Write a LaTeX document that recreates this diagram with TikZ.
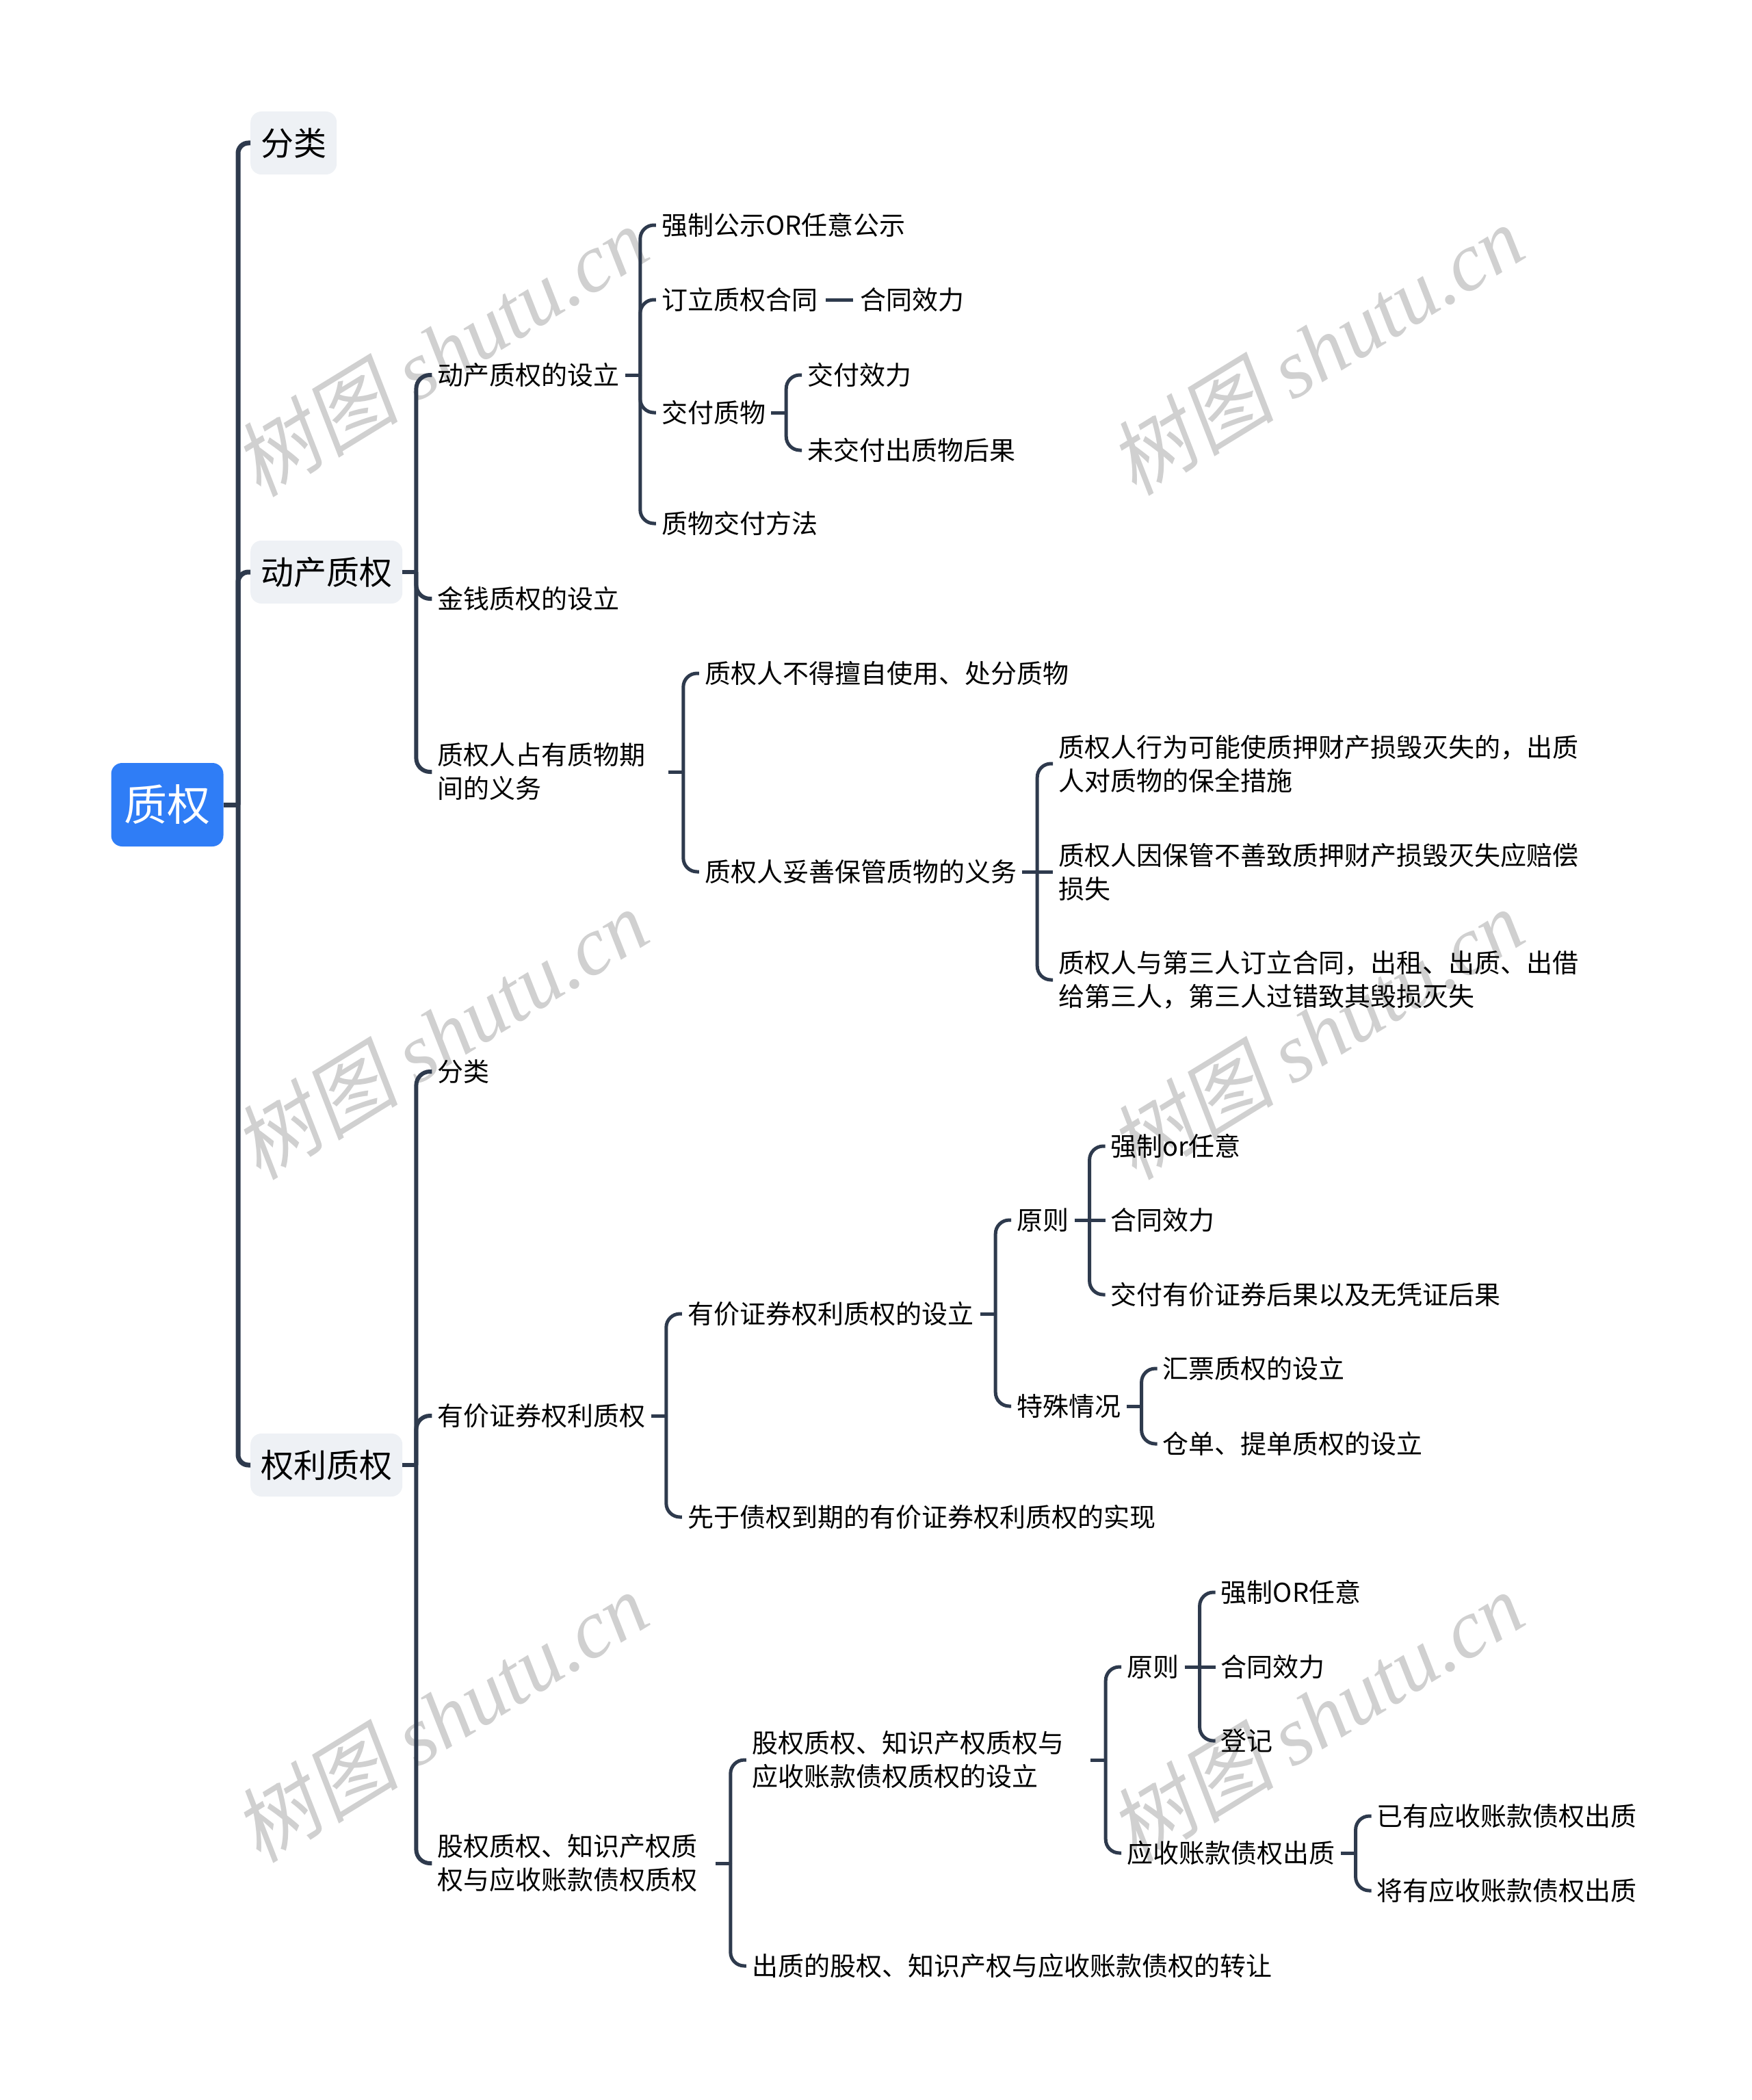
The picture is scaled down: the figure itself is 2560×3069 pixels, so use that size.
\documentclass[tikz,border=0pt]{standalone}
\usepackage{fontspec}
\setmainfont{Noto Sans CJK SC}
\newfontfamily\wmcjk[FakeSlant=0.18]{Noto Sans CJK SC}
\newfontfamily\wmlat{Liberation Serif}
\usetikzlibrary{calc}
\definecolor{lnc}{RGB}{46,58,77}
\definecolor{rootc}{RGB}{47,125,246}
\definecolor{lvc}{RGB}{238,241,245}
\definecolor{wmc}{RGB}{208,208,208}
\tikzset{
  rootnode/.style={fill=rootc, text=white, rounded corners=16pt, inner xsep=19pt, inner ysep=0pt, minimum height=122pt, font=\fontsize{63}{70}\selectfont},
  lvone/.style={fill=lvc, rounded corners=16pt, inner xsep=15pt, inner ysep=0pt, minimum height=92pt, font=\fontsize{48}{56}\selectfont, anchor=west},
  txt/.style={inner xsep=8pt, inner ysep=4pt, font=\fontsize{38}{49}\selectfont, anchor=west, align=left},
  conA/.style={draw=lnc, line width=7pt, rounded corners=15pt},
  conB/.style={draw=lnc, line width=6pt, rounded corners=20pt},
  conC/.style={draw=lnc, line width=5pt, rounded corners=20pt},
  wm/.style={text=wmc, rotate=31.5, inner sep=0pt, font=\fontsize{121}{128}\selectfont}
}
\begin{document}
\begin{tikzpicture}[x=1pt,y=-1pt]
\fill[white] (0,0) rectangle (2560,3069);
\useasboundingbox (0,0) rectangle (2560,3069);
% watermarks
\foreach \wx/\wy in {644/513,1924/511,644/1511,1924/1511,644/2509,1924/2509}
  \node[wm] (wm\wx-\wy) at (\wx,\wy) {{\wmcjk 树图} {\wmlat\itshape shutu.cn}};

% root and level 1
\node[rootnode] (root) at (244.5,1176) {质权};
\coordinate (rT) at (348,1176);
\draw[conA] (root.east) -- (rT);
\node[lvone] (a1) at (366,209) {分类};
\node[lvone] (a2) at (366,836) {动产质权};
\node[lvone] (a3) at (366,2141) {权利质权};
\foreach \c in {a1,a2,a3}
  \draw[conA] (rT) -- (rT |- \c.west) -- (\c.west);

% ---- 动产质权
\coordinate (a2T) at ([xshift=20pt]a2.east);
\coordinate (a2X) at ([xshift=23pt]a2T);
\draw[conB] (a2.east) -- (a2T);
\node[txt] (b1) at (a2X |- 0,548) {动产质权的设立};
\node[txt] (b2) at (a2X |- 0,875) {金钱质权的设立};
\node[txt] (b3) at (a2X |- 0,1128) {质权人占有质物期\\间的义务};
\foreach \c in {b1,b2,b3}
  \draw[conB] (a2T) -- (a2T |- \c.west) -- (\c.west);

% 动产质权的设立
\coordinate (b1T) at ([xshift=22pt]b1.east);
\coordinate (b1X) at ([xshift=23pt]b1T);
\draw[conC] ([xshift=-22pt]b1T) -- (b1T);
\node[txt] (c1) at (b1X |- 0,329) {强制公示OR任意公示};
\node[txt] (c2) at (b1X |- 0,438) {订立质权合同};
\node[txt] (c3) at (b1X |- 0,603) {交付质物};
\node[txt] (c4) at (b1X |- 0,765) {质物交付方法};
\foreach \c in {c1,c2,c3,c4}
  \draw[conC] (b1T) -- (b1T |- \c.west) -- (\c.west);
\node[txt] (c2b) at ([xshift=46pt]c2.east) {合同效力};
\draw[conC] ([xshift=4pt]c2.east) -- ([xshift=-2pt]c2b.west);

% 交付质物
\coordinate (c3T) at ([xshift=22pt]c3.east);
\coordinate (c3X) at ([xshift=23pt]c3T);
\draw[conC] ([xshift=-22pt]c3T) -- (c3T);
\node[txt] (d1) at (c3X |- 0,548) {交付效力};
\node[txt] (d2) at (c3X |- 0,658) {未交付出质物后果};
\foreach \c in {d1,d2}
  \draw[conC] (c3T) -- (c3T |- \c.west) -- (\c.west);

% 质权人占有质物期间的义务
\coordinate (b3T) at ([xshift=47pt]b3.east);
\coordinate (b3X) at ([xshift=23pt]b3T);
\draw[conC] ([xshift=-22pt]b3T) -- (b3T);
\node[txt] (e1) at (b3X |- 0,984) {质权人不得擅自使用、处分质物};
\node[txt] (e2) at (b3X |- 0,1274) {质权人妥善保管质物的义务};
\foreach \c in {e1,e2}
  \draw[conC] (b3T) -- (b3T |- \c.west) -- (\c.west);

\coordinate (e2T) at ([xshift=22pt]e2.east);
\coordinate (e2X) at ([xshift=23pt]e2T);
\draw[conC] ([xshift=-22pt]e2T) -- (e2T);
\node[txt] (f1) at (e2X |- 0,1116) {质权人行为可能使质押财产损毁灭失的，出质\\人对质物的保全措施};
\node[txt] (f2) at (e2X |- 0,1274) {质权人因保管不善致质押财产损毁灭失应赔偿\\损失};
\node[txt] (f3) at (e2X |- 0,1432) {质权人与第三人订立合同，出租、出质、出借\\给第三人，第三人过错致其毁损灭失};
\draw[conC] (e2T) -- (e2T |- f1.west) -- (f1.west);
\draw[conC] (e2T) -- (f2.west);
\draw[conC] (e2T) -- (e2T |- f3.west) -- (f3.west);

% ---- 权利质权
\coordinate (a3T) at ([xshift=20pt]a3.east);
\coordinate (a3X) at ([xshift=23pt]a3T);
\draw[conB] (a3.east) -- (a3T);
\node[txt] (g1) at (a3X |- 0,1566) {分类};
\node[txt] (g2) at (a3X |- 0,2069) {有价证券权利质权};
\node[txt] (g3) at (a3X |- 0,2723) {股权质权、知识产权质\\权与应收账款债权质权};
\foreach \c in {g1,g2,g3}
  \draw[conB] (a3T) -- (a3T |- \c.west) -- (\c.west);

% 有价证券权利质权
\coordinate (g2T) at ([xshift=22pt]g2.east);
\coordinate (g2X) at ([xshift=23pt]g2T);
\draw[conC] ([xshift=-22pt]g2T) -- (g2T);
\node[txt] (h1) at (g2X |- 0,1920) {有价证券权利质权的设立};
\node[txt] (h2) at (g2X |- 0,2217) {先于债权到期的有价证券权利质权的实现};
\foreach \c in {h1,h2}
  \draw[conC] (g2T) -- (g2T |- \c.west) -- (\c.west);

\coordinate (h1T) at ([xshift=24pt]h1.east);
\coordinate (h1X) at ([xshift=23pt]h1T);
\draw[conC] ([xshift=-22pt]h1T) -- (h1T);
\node[txt] (i1) at (h1X |- 0,1783) {原则};
\node[txt] (i2) at (h1X |- 0,2055) {特殊情况};
\foreach \c in {i1,i2}
  \draw[conC] (h1T) -- (h1T |- \c.west) -- (\c.west);

\coordinate (i1T) at ([xshift=22pt]i1.east);
\coordinate (i1X) at ([xshift=23pt]i1T);
\draw[conC] ([xshift=-22pt]i1T) -- (i1T);
\node[txt] (j1) at (i1X |- 0,1675) {强制or任意};
\node[txt] (j2) at (i1X |- 0,1783) {合同效力};
\node[txt] (j3) at (i1X |- 0,1892) {交付有价证券后果以及无凭证后果};
\draw[conC] (i1T) -- (i1T |- j1.west) -- (j1.west);
\draw[conC] (i1T) -- (j2.west);
\draw[conC] (i1T) -- (i1T |- j3.west) -- (j3.west);

\coordinate (i2T) at ([xshift=22pt]i2.east);
\coordinate (i2X) at ([xshift=23pt]i2T);
\draw[conC] ([xshift=-22pt]i2T) -- (i2T);
\node[txt] (k1) at (i2X |- 0,2000) {汇票质权的设立};
\node[txt] (k2) at (i2X |- 0,2110) {仓单、提单质权的设立};
\foreach \c in {k1,k2}
  \draw[conC] (i2T) -- (i2T |- \c.west) -- (\c.west);

% 股权质权...
\coordinate (g3T) at ([xshift=40pt]g3.east);
\coordinate (g3X) at ([xshift=23pt]g3T);
\draw[conC] ([xshift=-22pt]g3T) -- (g3T);
\node[txt] (l1) at (g3X |- 0,2572) {股权质权、知识产权质权与\\应收账款债权质权的设立};
\node[txt] (l2) at (g3X |- 0,2873) {出质的股权、知识产权与应收账款债权的转让};
\foreach \c in {l1,l2}
  \draw[conC] (g3T) -- (g3T |- \c.west) -- (\c.west);

\coordinate (l1T) at ([xshift=53pt]l1.east);
\coordinate (l1X) at ([xshift=23pt]l1T);
\draw[conC] ([xshift=-22pt]l1T) -- (l1T);
\node[txt] (m1) at (l1X |- 0,2436) {原则};
\node[txt] (m2) at (l1X |- 0,2708) {应收账款债权出质};
\foreach \c in {m1,m2}
  \draw[conC] (l1T) -- (l1T |- \c.west) -- (\c.west);

\coordinate (m1T) at ([xshift=22pt]m1.east);
\coordinate (m1X) at ([xshift=23pt]m1T);
\draw[conC] ([xshift=-22pt]m1T) -- (m1T);
\node[txt] (n1) at (m1X |- 0,2327) {强制OR任意};
\node[txt] (n2) at (m1X |- 0,2436) {合同效力};
\node[txt] (n3) at (m1X |- 0,2544) {登记};
\draw[conC] (m1T) -- (m1T |- n1.west) -- (n1.west);
\draw[conC] (m1T) -- (n2.west);
\draw[conC] (m1T) -- (m1T |- n3.west) -- (n3.west);

\coordinate (m2T) at ([xshift=22pt]m2.east);
\coordinate (m2X) at ([xshift=23pt]m2T);
\draw[conC] ([xshift=-22pt]m2T) -- (m2T);
\node[txt] (o1) at (m2X |- 0,2654) {已有应收账款债权出质};
\node[txt] (o2) at (m2X |- 0,2763) {将有应收账款债权出质};
\foreach \c in {o1,o2}
  \draw[conC] (m2T) -- (m2T |- \c.west) -- (\c.west);
\end{tikzpicture}
\end{document}
